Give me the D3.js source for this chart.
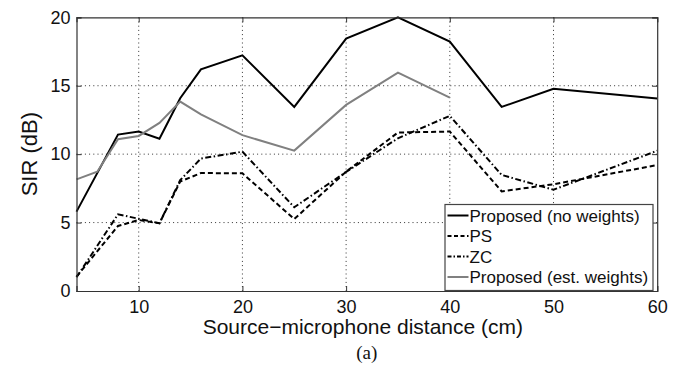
<!DOCTYPE html>
<html>
<head>
<meta charset="utf-8">
<script src="https://cdn.jsdelivr.net/npm/d3@7"></script>
<style>
  html, body { margin: 0; padding: 0; background: #fff; }
  svg { display: block; font-family: "Liberation Sans", Arial, Helvetica, sans-serif; }
</style>
</head>
<body>
<svg id="chart" width="685" height="372"></svg>
<script>
// Source–microphone distance (cm) sampled by each method
const distFull = [4, 8, 10, 12, 14, 16, 20, 25, 30, 35, 40, 45, 50, 60];
const distEst = [4, 6, 8, 10, 12, 14, 16, 20, 25, 30, 35, 40];

// SIR (dB) per method
const proposedNoWeights = [5.8, 11.43, 11.65, 11.13, 14.09, 16.2, 17.22, 13.45, 18.44, 20.0, 18.22, 13.45, 14.77, 14.06];
const psValues = [1.05, 4.75, 5.19, 4.95, 8.0, 8.62, 8.6, 5.26, 8.72, 11.58, 11.65, 7.28, 7.8, 9.2];
const zcValues = [1.0, 5.6, 5.28, 4.95, 8.1, 9.68, 10.18, 6.12, 8.7, 11.16, 12.8, 8.48, 7.4, 10.25];
const proposedEst = [8.16, 8.72, 11.09, 11.33, 12.28, 13.84, 12.9, 11.39, 10.26, 13.6, 15.96, 14.13];

const xTicks = [10, 20, 30, 40, 50, 60];
const yTicks = [0, 5, 10, 15, 20];
const seriesNames = ["Proposed (no weights)", "PS", "ZC", "Proposed (est. weights)"];

const xLabel = "Source\u2212microphone distance (cm)";
const yLabel = "SIR (dB)";
const caption = "(a)";

const W = 685, H = 372;
const margin = { top: 17.3, right: 27.8, bottom: 81, left: 76.5 };
const iw = W - margin.left - margin.right;
const ih = H - margin.top - margin.bottom;

const svg = d3.select("#chart");
const g = svg.append("g").attr("transform", `translate(${margin.left},${margin.top})`);

const x = d3.scaleLinear().domain([4, 60]).range([0, iw]);
const y = d3.scaleLinear().domain([0, 20]).range([ih, 0]);

// dotted grid
g.append("g").selectAll("line").data(xTicks.filter(t => t < 60)).join("line")
  .attr("x1", d => x(d)).attr("x2", d => x(d)).attr("y1", 0).attr("y2", ih)
  .attr("stroke", "#333").attr("stroke-width", 1).attr("stroke-dasharray", "1,3.2");
g.append("g").selectAll("line").data(yTicks.filter(t => t > 0 && t < 20)).join("line")
  .attr("x1", 0).attr("x2", iw).attr("y1", d => y(d)).attr("y2", d => y(d))
  .attr("stroke", "#333").attr("stroke-width", 1).attr("stroke-dasharray", "1,3.2");

// series
const series = [
  { name: seriesNames[0], xs: distFull, ys: proposedNoWeights, color: "#000", dash: null },
  { name: seriesNames[1], xs: distFull, ys: psValues, color: "#000", dash: "5,3" },
  { name: seriesNames[2], xs: distFull, ys: zcValues, color: "#000", dash: "6,2.5,1.5,2.5" },
  { name: seriesNames[3], xs: distEst, ys: proposedEst, color: "#808080", dash: null }
];

const line = d3.line().x(d => x(d[0])).y(d => y(d[1]));

g.append("g").selectAll("path").data(series).join("path")
  .attr("d", s => line(s.xs.map((v, i) => [v, s.ys[i]])))
  .attr("fill", "none")
  .attr("stroke", s => s.color)
  .attr("stroke-width", 2)
  .attr("stroke-linejoin", "miter")
  .attr("stroke-dasharray", s => s.dash);

// axes (ticks pointing inward, box on all sides)
const tickLen = 5;
const xAxis = g.append("g").attr("transform", `translate(0,${ih})`)
  .call(d3.axisBottom(x).tickValues(xTicks).tickSize(-tickLen).tickPadding(9));
const xTop = g.append("g")
  .call(d3.axisTop(x).tickValues(xTicks).tickSize(-tickLen).tickFormat(""));
const yAxis = g.append("g")
  .call(d3.axisLeft(y).tickValues(yTicks).tickSize(-tickLen).tickPadding(6));
const yRight = g.append("g").attr("transform", `translate(${iw},0)`)
  .call(d3.axisRight(y).tickValues(yTicks).tickSize(-tickLen).tickFormat(""));

[xAxis, xTop, yAxis, yRight].forEach(a => {
  a.select(".domain").attr("stroke", "#333").attr("stroke-width", 1.2);
  a.selectAll(".tick line").attr("stroke", "#333");
  a.selectAll("text").attr("fill", "#111").attr("font-size", 18)
    .attr("font-family", "'Liberation Sans', Arial, sans-serif");
});

// legend
const lg = g.append("g").attr("transform", `translate(${445 - margin.left},${204.5 - margin.top})`);
lg.append("rect").attr("width", 208).attr("height", 86)
  .attr("fill", "#fff").attr("stroke", "#444").attr("stroke-width", 1.2);
const rows = lg.selectAll("g.row").data(series).join("g").attr("class", "row")
  .attr("transform", (d, i) => `translate(0,${11 + i * 20.5})`);
rows.append("line").attr("x1", 2.5).attr("x2", 23.5).attr("y1", 0).attr("y2", 0)
  .attr("stroke", d => d.color).attr("stroke-width", 2)
  .attr("stroke-dasharray", d => d.dash ? (d.name === "PS" ? "4,2.5" : "4,2,1.5,2") : null);
rows.append("text").attr("x", 24.5).attr("y", 0).attr("dy", "0.36em")
  .attr("font-size", 17).attr("fill", "#111").text(d => d.name);

// axis titles and caption
svg.append("text").attr("x", margin.left + iw / 2 - 4).attr("y", 334)
  .attr("text-anchor", "middle").attr("font-size", 21).attr("fill", "#111").text(xLabel);
svg.append("text").attr("transform", `translate(37,${margin.top + ih / 2}) rotate(-90)`)
  .attr("text-anchor", "middle").attr("font-size", 22).attr("fill", "#111").text(yLabel);
svg.append("text").attr("x", margin.left + iw / 2).attr("y", 359)
  .attr("text-anchor", "middle").attr("font-size", 19).attr("fill", "#111")
  .attr("font-family", "'Liberation Serif', 'Times New Roman', serif").text(caption);
</script>
</body>
</html>
